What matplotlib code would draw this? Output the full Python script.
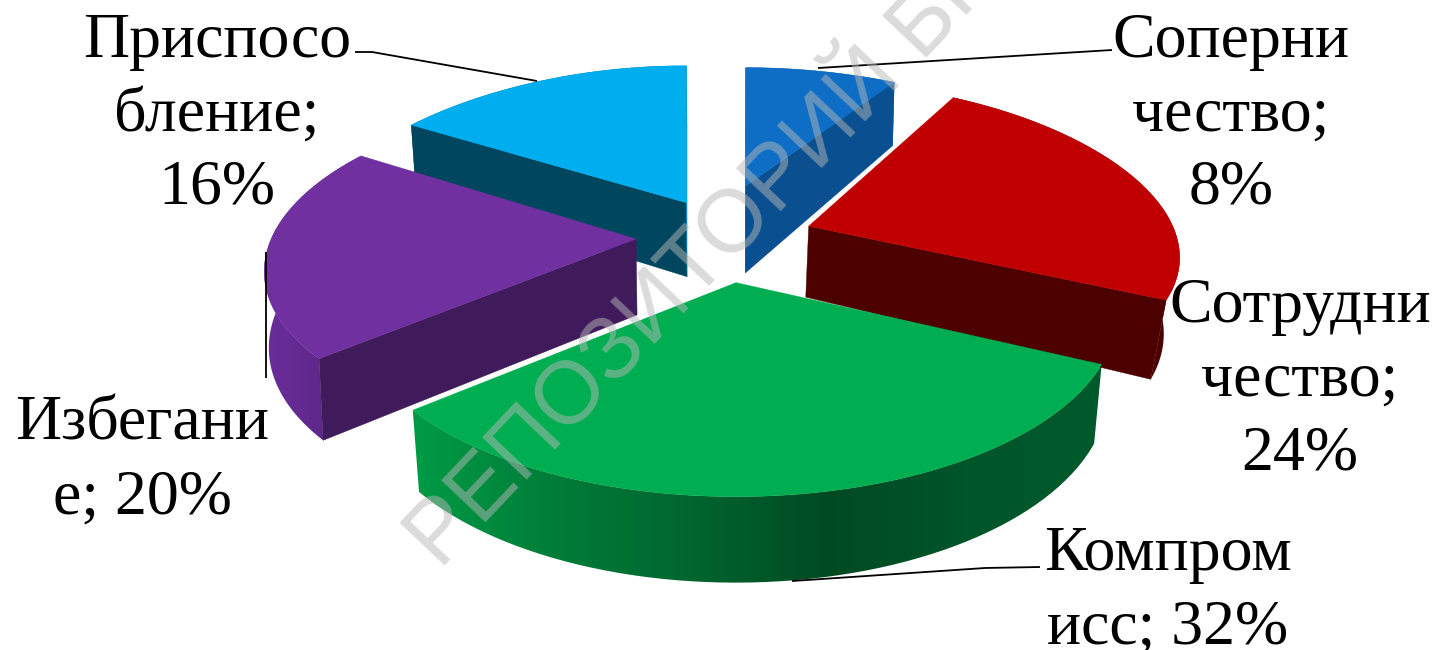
"""
Exploded 3D-style pie of conflict strategies
"""
import matplotlib
matplotlib.use("Agg")
import matplotlib.pyplot as plt
import numpy as np
from matplotlib.colors import LinearSegmentedColormap
from matplotlib.patches import PathPatch, Polygon
from matplotlib.path import Path

CATEGORIES = ["Соперни\nчество", "Сотрудни\nчество", "Компром\nисс", "Избегани\nе", "Приспосо\nбление"]
VALUES = [8, 24, 32, 20, 16]
LABEL_SEPS = ["\n", "\n", " ", " ", "\n"]

TOP_COLORS = ["#0E6EC5", "#C00000", "#00AD50", "#7030A0", "#00ADEF"]
# colour of the two cut faces, None where the face can't be seen
CUT_COLORS = [
    ("#0A5090", "#0A5090"),
    (None, "#4D0000"),
    (None, None),
    ("#401B5C", None),
    ("#00465F", "#0090C8"),
]
RIM_STOPS = [
    ["#0A5090", "#0A5090"],
    ["#5A0000", "#4D0000"],
    ["#009B45", "#007D39", "#00662F", "#004A22", "#00552A", "#005A2B"],
    ["#6B2D9A", "#552480"],
    ["#00465F", "#00465F"],
]

# layout, pixels
W, H = 1436, 650
CX, CY = 725, 236
EXPLODE_X = [84, 88, 88, 89, 80]
EXPLODE_Y = [52, 32, 47, 47, 38]
RADIUS_A = [372, 364, 373, 365, 365]
RADIUS_B0 = [118, 165, 176, 170, 154]
RADIUS_B1 = [0, 21, 38, 28, 17]
APEX_DEPTH = [87, 71, 80, 76, 74]
CONVERGE = [0.01, 0.035, 0.02, 0.01, 0.015]
DRAW_ORDER = [4, 0, 1, 3, 2]
# centre x, baseline of the first line
LABEL_POS = [(1231, 57), (1300, 322), (1168, 570), (142, 440), (217, 57)]
LINE_STEP = 73.5
LEADERS = [
    ([1112, 818], [50, 68]),
    ([1040, 985, 792], [567, 568, 581]),
    ([266, 266], [252, 378]),
    ([355, 372, 537], [52, 52, 81]),
]


def rim_xy(theta, apex, i):
    c = np.cos(theta)
    return (apex[0] + (RADIUS_A[i] - 73 * c) * np.sin(theta),
            apex[1] - (RADIUS_B0[i] - RADIUS_B1[i] * c) * c)


def drop(x, y, d, i):
    return x - (x - CX) * CONVERGE[i], y + d


fig = plt.figure(figsize=(W / 100, H / 100), dpi=100, facecolor="white")
ax = fig.add_axes([0, 0, 1, 1])

fractions = np.array(VALUES) / sum(VALUES)
edges = np.concatenate([[0], np.cumsum(fractions)]) * 2 * np.pi

for i in DRAW_ORDER:
    t0, t1 = edges[i], edges[i + 1]
    mid = (t0 + t1) / 2
    apex = (CX + EXPLODE_X[i] * np.sin(mid), CY - EXPLODE_Y[i] * np.cos(mid))
    ts = np.linspace(t0, t1, 120)
    rx, ry = rim_xy(ts, apex, i)
    bx, by = drop(rx, ry, 74 - 12 * np.cos(ts), i)
    ax_b, ay_b = drop(apex[0], apex[1], APEX_DEPTH[i], i)

    # the two cut faces
    for k, col in zip((0, -1), CUT_COLORS[i]):
        if col is None:
            continue
        ax.add_patch(Polygon([apex, (rx[k], ry[k]), (bx[k], by[k]), (ax_b, ay_b)],
                             closed=True, fc=col, ec=col, lw=0.3))

    # outer wall with a left-right gradient
    verts = np.column_stack([np.r_[rx, bx[::-1]], np.r_[ry, by[::-1]]])
    patch = PathPatch(Path(np.vstack([verts, verts[0]])), fc="none", ec="none")
    ax.add_patch(patch)
    cmap = LinearSegmentedColormap.from_list(f"rim{i}", RIM_STOPS[i])
    im = ax.imshow(np.linspace(0, 1, 256).reshape(1, -1), cmap=cmap, aspect="auto",
                   extent=[verts[:, 0].min(), verts[:, 0].max(), verts[:, 1].max(), verts[:, 1].min()])
    im.set_clip_path(patch)

    # top
    ax.add_patch(Polygon(np.vstack([[apex], np.column_stack([rx, ry])]), closed=True,
                         fc=TOP_COLORS[i], ec=TOP_COLORS[i], lw=0.3))

for xs, ys in LEADERS:
    ax.plot(xs, ys, color="black", lw=1.3, solid_capstyle="butt")

for cat, val, sep, (lx, ly) in zip(CATEGORIES, VALUES, LABEL_SEPS, LABEL_POS):
    for n, line in enumerate(f"{cat};{sep}{val}%".split("\n")):
        ax.text(lx, ly + n * LINE_STEP, line, family="Liberation Serif", fontsize=46,
                color="black", ha="center", va="baseline")

ax.text(440, 570, "РЕПОЗИТОРИЙ БГПУ", family="Liberation Sans", fontsize=64, color="#B8B8B8",
        alpha=0.5, rotation=46.5, rotation_mode="anchor", ha="left", va="baseline", clip_on=True)

ax.set_xlim(0, W)
ax.set_ylim(H, 0)
ax.axis("off")
fig.savefig("out.png", dpi=100)
